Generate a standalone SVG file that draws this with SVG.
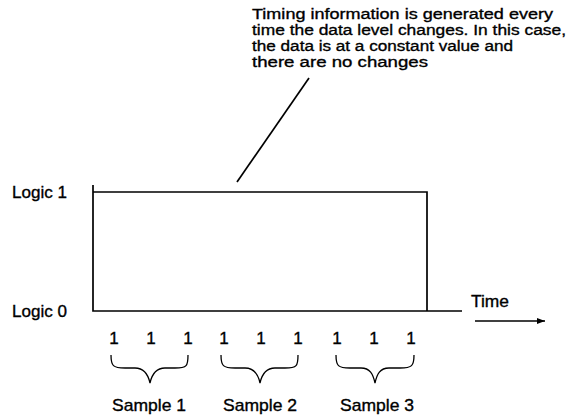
<svg xmlns="http://www.w3.org/2000/svg" width="577" height="418" viewBox="0 0 577 418">
  <style>
    text { font-family: "Liberation Sans", Arial, sans-serif; fill: #000; stroke: #000; stroke-width: 0.35; }
    .lbl { font-size: 17px; }
    .note { font-size: 15.5px; }
    .ln { stroke: #000; stroke-width: 1.7; fill: none; }
    .brace { stroke: #000; stroke-width: 1.3; fill: none; }
  </style>
  <defs>
    <marker id="ah" markerWidth="8" markerHeight="6" refX="8" refY="3" orient="auto" markerUnits="userSpaceOnUse">
      <path d="M0,0 L8,3 L0,6 Z" fill="#000"/>
    </marker>
  </defs>

  <g id="note">
    <text class="note" x="252" y="19" textLength="301" lengthAdjust="spacingAndGlyphs">Timing information is generated every</text>
    <text class="note" x="252" y="35" textLength="314" lengthAdjust="spacingAndGlyphs">time the data level changes. In this case,</text>
    <text class="note" x="252" y="51" textLength="261" lengthAdjust="spacingAndGlyphs">the data is at a constant value and</text>
    <text class="note" x="252" y="67" textLength="176" lengthAdjust="spacingAndGlyphs">there are no changes</text>
  </g>

  <g id="axis-labels">
    <text class="lbl" x="12" y="198" textLength="55" lengthAdjust="spacingAndGlyphs">Logic 1</text>
    <text class="lbl" x="12" y="317" textLength="55" lengthAdjust="spacingAndGlyphs">Logic 0</text>
    <text class="lbl" x="471" y="307" textLength="38" lengthAdjust="spacingAndGlyphs">Time</text>
  </g>

  <g id="waveform">
    <path class="ln" d="M93,185 L93,311 L462,311"/>
    <path class="ln" d="M93,192 L427,192 L427,311"/>
  </g>

  <g id="samples">
    <g text-anchor="middle">
      <text class="lbl" x="114" y="344">1</text>
      <text class="lbl" x="151" y="344">1</text>
      <text class="lbl" x="188" y="344">1</text>
      <text class="lbl" x="224" y="344">1</text>
      <text class="lbl" x="261" y="344">1</text>
      <text class="lbl" x="298" y="344">1</text>
      <text class="lbl" x="337" y="344">1</text>
      <text class="lbl" x="374" y="344">1</text>
      <text class="lbl" x="411" y="344">1</text>
    </g>
    <path class="brace" d="M111,355 C111,366 113,368 125,368 L135,368 C144,368 148,374 150,383 C152,374 156,368 165,368 L175,368 C187,368 188,366 188,355"/>
    <path class="brace" d="M221,355 C221,366 223,368 235,368 L245,368 C254,368 258,374 260,383 C262,374 266,368 275,368 L285,368 C297,368 298,366 298,355"/>
    <path class="brace" d="M336,355 C336,366 338,368 350,368 L361,368 C370,368 373,374 375,383 C377,374 380,368 389,368 L400,368 C412,368 414,366 414,355"/>
    <g text-anchor="middle">
      <text class="lbl" x="149" y="411" textLength="74" lengthAdjust="spacingAndGlyphs">Sample 1</text>
      <text class="lbl" x="260" y="411" textLength="74" lengthAdjust="spacingAndGlyphs">Sample 2</text>
      <text class="lbl" x="377" y="411" textLength="74" lengthAdjust="spacingAndGlyphs">Sample 3</text>
    </g>
  </g>

  <g id="connectors">
    <line class="ln" x1="237" y1="182" x2="309" y2="78" stroke-width="1.2"/>
    <line class="ln" x1="475" y1="321" x2="545" y2="321" stroke-width="1.5" marker-end="url(#ah)"/>
  </g>
</svg>
